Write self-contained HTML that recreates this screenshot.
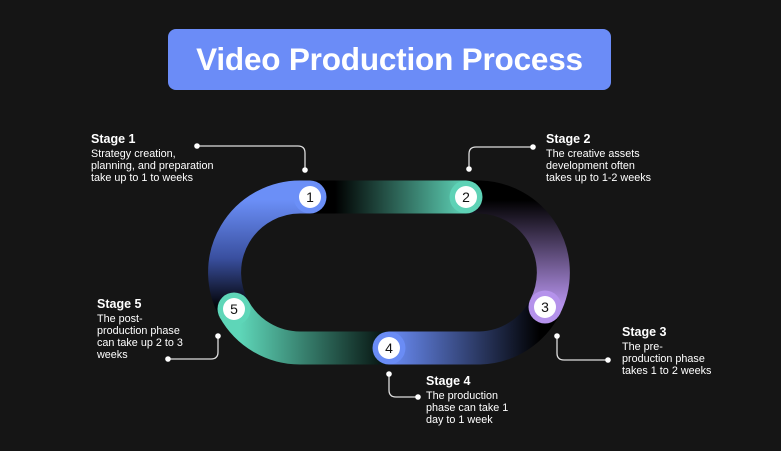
<!DOCTYPE html>
<html><head><meta charset="utf-8"><style>
html,body{margin:0;padding:0;background:#151515;}
body{width:781px;height:451px;overflow:hidden;position:relative;font-family:"Liberation Sans",sans-serif;}
.title{position:absolute;left:168px;top:29px;width:443px;height:61px;background:#6b8cf7;border-radius:8px;color:#fff;font-weight:bold;font-size:31.5px;line-height:61px;text-align:center;letter-spacing:-0.2px;}
.t{position:absolute;color:#fff;font-size:10.8px;line-height:12px;}
.t b{display:block;font-size:12.5px;line-height:15px;margin-bottom:1px;}
</style></head><body>
<div class="title">Video Production Process</div>
<svg width="781" height="451" style="position:absolute;left:0;top:0">
<defs>
<linearGradient id="g1" gradientUnits="userSpaceOnUse" x1="0" y1="305" x2="0" y2="200"><stop offset="0" stop-color="#05060c"/><stop offset="0.45" stop-color="#3a50a0"/><stop offset="1" stop-color="#6b8ff7"/></linearGradient>
<linearGradient id="g2" gradientUnits="userSpaceOnUse" x1="335" y1="0" x2="466" y2="0"><stop offset="0" stop-color="#000"/><stop offset="1" stop-color="#5ed2b6"/></linearGradient>
<linearGradient id="g3" gradientUnits="userSpaceOnUse" x1="0" y1="200" x2="0" y2="305"><stop offset="0" stop-color="#000"/><stop offset="1" stop-color="#b592eb"/></linearGradient>
<linearGradient id="g4" gradientUnits="userSpaceOnUse" x1="540" y1="0" x2="389" y2="0"><stop offset="0" stop-color="#000"/><stop offset="1" stop-color="#6a8cf5"/></linearGradient>
<linearGradient id="g5" gradientUnits="userSpaceOnUse" x1="380" y1="0" x2="240" y2="0"><stop offset="0" stop-color="#0a1a16"/><stop offset="1" stop-color="#5ed6b8"/></linearGradient>
</defs>
<g fill="none" stroke-width="33">
<path d="M234,309 A75.5,75.5 0 0 1 300,197 L310,197" stroke="url(#g1)"/>
<path d="M310,197 L466,197" stroke="url(#g2)"/>
<path d="M466,197 L480,197 A75.5,75.5 0 0 1 545,307" stroke="url(#g3)"/>
<path d="M545,307 A75.5,75.5 0 0 1 480,348 L389,348" stroke="url(#g4)"/>
<path d="M389,348 L300,348 A75.5,75.5 0 0 1 234,309" stroke="url(#g5)"/>
</g>
<circle cx="310" cy="197" r="16.5" fill="#6b8ff7"/>
<circle cx="466" cy="197" r="16.5" fill="#5ed2b6"/>
<circle cx="545" cy="307" r="16.5" fill="#b592eb"/>
<circle cx="389" cy="348" r="16.5" fill="#6a8cf5"/>
<circle cx="234" cy="309" r="16.5" fill="#5ed6b8"/>
<g fill="#fff"><circle cx="310" cy="197" r="11"/><circle cx="466" cy="197" r="11"/><circle cx="545" cy="307" r="11"/><circle cx="389" cy="348" r="11"/><circle cx="234" cy="309" r="11"/></g>
<g font-family="Liberation Sans, sans-serif" font-size="14" fill="#111" text-anchor="middle">
<text x="310" y="202">1</text><text x="466" y="202">2</text><text x="545" y="312">3</text><text x="389" y="353">4</text><text x="234" y="314">5</text>
</g>
<g fill="none" stroke="#ddd" stroke-width="1.3">
<path d="M197,146 L298,146 Q305,146 305,153 L305,170"/>
<path d="M533,147 L476,147 Q469,147 469,154 L469,169"/>
<path d="M557,336 L557,353 Q557,360 564,360 L608,360"/>
<path d="M389,374 L389,390 Q389,397 396,397 L418,397"/>
<path d="M218,336 L218,352 Q218,359 211,359 L168,359"/>
</g>
<g fill="#fff">
<circle cx="197" cy="146" r="2.8"/><circle cx="305" cy="170" r="2.8"/>
<circle cx="533" cy="147" r="2.8"/><circle cx="469" cy="169" r="2.8"/>
<circle cx="557" cy="336" r="2.8"/><circle cx="608" cy="360" r="2.8"/>
<circle cx="389" cy="374" r="2.8"/><circle cx="418" cy="397" r="2.8"/>
<circle cx="218" cy="336" r="2.8"/><circle cx="168" cy="359" r="2.8"/>
</g>
</svg>
<div class="t" style="left:91px;top:132px"><b>Stage 1</b>Strategy creation,<br>planning, and preparation<br>take up to 1 to weeks</div>
<div class="t" style="left:546px;top:132px"><b>Stage 2</b>The creative assets<br>development often<br>takes up to 1-2 weeks</div>
<div class="t" style="left:622px;top:325px"><b>Stage 3</b>The pre-<br>production phase<br>takes 1 to 2 weeks</div>
<div class="t" style="left:426px;top:374px"><b>Stage 4</b>The production<br>phase can take 1<br>day to 1 week</div>
<div class="t" style="left:97px;top:297px"><b>Stage 5</b>The post-<br>production phase<br>can take up 2 to 3<br>weeks</div>
</body></html>
